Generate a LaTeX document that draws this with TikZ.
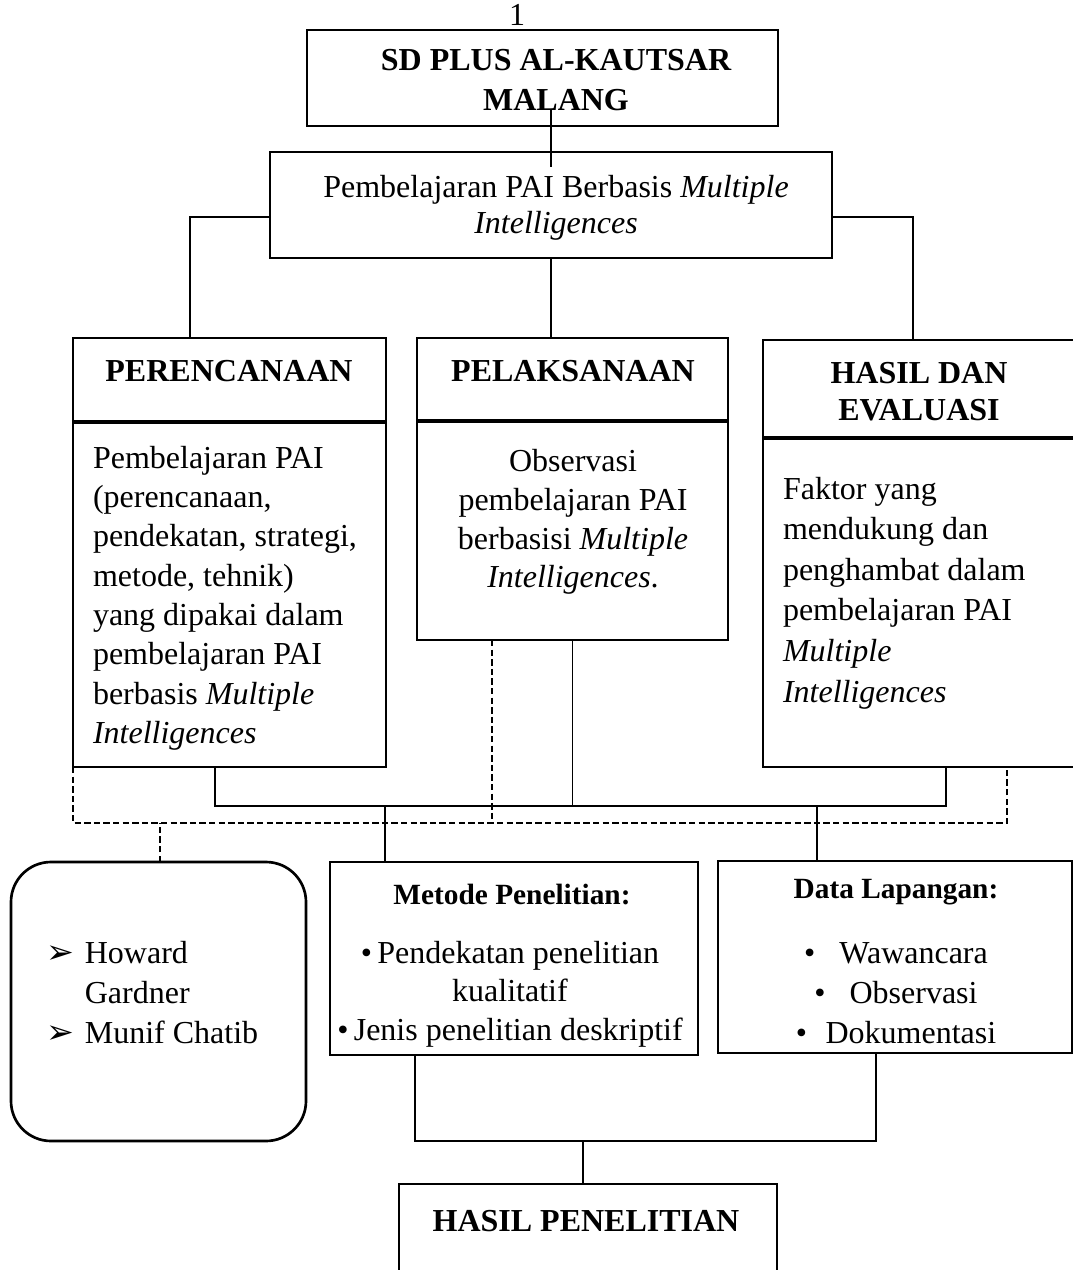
\documentclass[tikz,border=0pt]{standalone}
\usepackage{fontspec}
\setmainfont{Liberation Serif}
\newfontfamily\dejavu{DejaVu Sans}
\usetikzlibrary{calc}
\newcommand\pxs{0.375pt}
\begin{document}
\begin{tikzpicture}[x=0.375pt,y=-0.375pt,
  frame/.style={draw, line width=1pt, inner sep=0pt, outer sep=0pt, anchor=north west},
  sepline/.style={line width=1.5pt},
  link/.style={line width=0.55pt},
  dlink/.style={line width=0.6pt, dash pattern=on 2.4pt off 1.2pt},
  txt/.style={inner sep=0pt, outer sep=0pt, font=\fontsize{12}{15}\selectfont},
  btxt/.style={inner sep=0pt, outer sep=0pt, font=\bfseries\fontsize{12}{14}\selectfont, align=center},
  stxt/.style={inner sep=0pt, outer sep=0pt, font=\bfseries\fontsize{11}{13}\selectfont}
]
\useasboundingbox (0,0) rectangle (1073,1270);
\clip (0,0) rectangle (1073,1270);

% boxes
\node[frame, minimum width={471*\pxs}, minimum height={96*\pxs}] (top) at (307,30) {};
\node[frame, minimum width={562*\pxs}, minimum height={106*\pxs}] (pai) at (270,152) {};
\node[frame, minimum width={313*\pxs}, minimum height={84*\pxs}] (perH) at (73,338) {};
\node[frame, minimum width={313*\pxs}, minimum height={345*\pxs}] (perB) at (73,422) {};
\node[frame, minimum width={311*\pxs}, minimum height={83*\pxs}] (pelH) at (417,338) {};
\node[frame, minimum width={311*\pxs}, minimum height={219*\pxs}] (pelB) at (417,421) {};
\node[frame, minimum width={330*\pxs}, minimum height={98*\pxs}] (hasH) at (763,340) {};
\node[frame, minimum width={330*\pxs}, minimum height={329*\pxs}] (hasB) at (763,438) {};
\node[frame, rounded corners=15pt, minimum width={295*\pxs}, minimum height={279*\pxs}] (teori) at (11,862) {};
\node[frame, minimum width={368*\pxs}, minimum height={193*\pxs}] (metode) at (330,862) {};
\node[frame, minimum width={354*\pxs}, minimum height={192*\pxs}] (data) at (718,861) {};
\node[frame, minimum width={378*\pxs}, minimum height={130*\pxs}] (hasil) at (399,1184) {};

\draw[sepline] (perB.north west) -- (perB.north east);
\draw[sepline] (pelB.north west) -- (pelB.north east);
\draw[sepline] (hasB.north west) -- (hasB.north east);

% texts
\node[txt] (pagenum) at (517,15) {1};
\node[btxt, font=\bfseries\fontsize{12}{15}\selectfont] (topt) at (556,80) {SD PLUS AL-KAUTSAR\\MALANG};
\node[txt, align=center, font=\fontsize{12}{13.5}\selectfont] (pait) at (556,208) {Pembelajaran PAI Berbasis \textit{Multiple}\\\textit{Intelligences}};
\node[btxt] (perHt) at (229,371) {PERENCANAAN};
\node[btxt] (pelHt) at (573,371) {PELAKSANAAN};
\node[btxt, font=\bfseries\fontsize{12}{13.9}\selectfont] (hasHt) at (919,392) {HASIL DAN\\EVALUASI};
\node[txt, anchor=west, align=left, font=\fontsize{12}{14.75}\selectfont] (perBt) at (93,598)
  {Pembelajaran PAI\\(perencanaan,\\pendekatan, strategi,\\metode, tehnik)\\yang dipakai dalam\\pembelajaran PAI\\berbasis \textit{Multiple}\\\textit{Intelligences}};
\node[txt, align=center, font=\fontsize{12}{14.5}\selectfont] (pelBt) at (573,522)
  {Observasi\\pembelajaran PAI\\berbasisi \textit{Multiple}\\\textit{Intelligences}.};
\node[txt, anchor=west, align=left, font=\fontsize{12}{15.2}\selectfont] (hasBt) at (783,593)
  {Faktor yang\\mendukung dan\\penghambat dalam\\pembelajaran PAI\\\textit{Multiple}\\\textit{Intelligences}};
\node[txt, anchor=west, align=left] (teorit) at (47,993)
  {\makebox[14.2pt][l]{\dejavu\fontsize{12.5}{12}\selectfont ➢}Howard\\\hspace*{14.2pt}Gardner\\\makebox[14.2pt][l]{\dejavu\fontsize{12.5}{12}\selectfont ➢}Munif Chatib};
\node[stxt] (metodet) at (512,895) {Metode Penelitian:};
\node[txt, align=center, font=\fontsize{12}{14.4}\selectfont] (metodeb) at (510,994)
  {•\,Pendekatan penelitian\\kualitatif\\•\,Jenis penelitian deskriptif};
\node[stxt] (datat) at (896,892) {Data Lapangan:};
\node[txt, align=center] (datab) at (896,993)
  {•\hspace{9pt}Wawancara\\•\hspace{9pt}Observasi\\•\hspace{7pt}Dokumentasi};
\node[btxt] (hasilt) at (586,1221) {HASIL PENELITIAN};

% connectors top part
\draw[link] ($(top.south)+(8.5,-16)$) -- ($(pai.north)+(0,15)$);
\draw[link] ($(pai.west)+(0,12)$) -| ($(perH.north west)+(117,0)$);
\draw[link] ($(pai.east)+(0,12)$) -| ($(hasH.north west)+(150,0)$);
\draw[link] (pai.south) -- (pai.south |- pelH.north);

% solid bus
\coordinate (b1) at ($(perB.south west)+(142,0)$);
\coordinate (b2) at ($(hasB.south west)+(183,0)$);
\coordinate (m1) at ($(metode.north west)+(55,0)$);
\coordinate (d1) at ($(data.north west)+(99,0)$);
\draw[link] (b1) -- ++(0,39) coordinate (bus) -- (b2 |- bus) -- (b2);
\draw[link] (pelB.south) -- (pelB.south |- bus);
\draw[link] (m1) -- (m1 |- bus);
\draw[link] (d1) -- (d1 |- bus);

% dashed
\coordinate (e1) at ($(hasB.south west)+(244,0)$);
\coordinate (p1) at ($(pelB.south west)+(75,0)$);
\coordinate (t1) at ($(teori.north west)+(149,0)$);
\draw[dlink] (perB.south west) -- ++(0,56) coordinate (dbus) -- (e1 |- dbus) -- (e1);
\draw[dlink] (p1) -- (p1 |- dbus);
\draw[dlink] (t1) -- (t1 |- dbus);

% bottom
\coordinate (q1) at ($(metode.south west)+(85,0)$);
\coordinate (q2) at ($(data.south west)+(158,0)$);
\coordinate (h1) at ($(hasil.north west)+(184,0)$);
\draw[link] (q1) -- (q1 |- 0,1141) coordinate (lbus) -- (q2 |- lbus) -- (q2);
\draw[link] (h1) -- (h1 |- lbus);
\end{tikzpicture}
\end{document}
